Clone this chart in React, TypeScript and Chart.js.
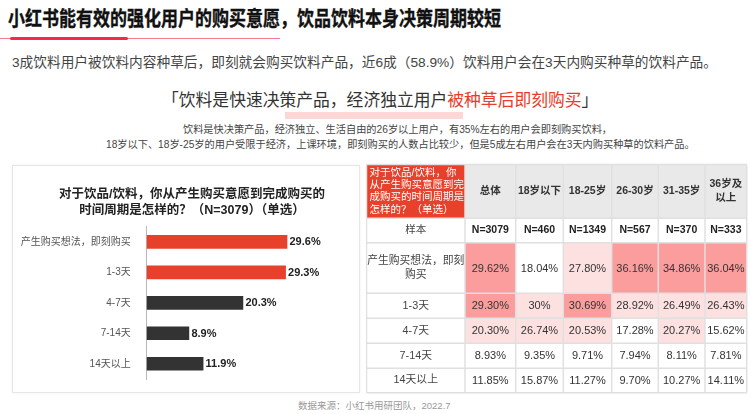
import React, { useEffect, useRef } from "react";
import { Chart, registerables } from "chart.js";

Chart.register(...registerables);

const FONT = '"Liberation Sans", "Noto Sans CJK SC", sans-serif';

// ---- Left bar chart data ----
const BAR_CATEGORIES = ["产生购买想法，即刻购买", "1-3天", "4-7天", "7-14天", "14天以上"];
const BAR_VALUES = [29.6, 29.3, 20.3, 8.9, 11.9];
const BAR_TITLE = ["对于饮品/饮料，你从产生购买意愿到完成购买的", "时间周期是怎样的？（N=3079）（单选）"];

// ---- Right table data ----
const TABLE_QUESTION = ["对于饮品/饮料，你", "从产生购买意愿到完", "成购买的时间周期是", "怎样的？（单选）"];
const TABLE_COLUMNS = [["总体"], ["18岁以下"], ["18-25岁"], ["26-30岁"], ["31-35岁"], ["36岁及", "以上"]];
const SAMPLE_LABEL = "样本";
const TABLE_SAMPLES = [3079, 460, 1349, 567, 370, 333];
const TABLE_ROWS = [["产生购买想法，即刻", "购买"], ["1-3天"], ["4-7天"], ["7-14天"], ["14天以上"]];
const ROW_IMMEDIATE = [29.62, 18.04, 27.8, 36.16, 34.86, 36.04];
const ROW_1_3_DAYS = [29.3, 30, 30.69, 28.92, 26.49, 26.43];
const ROW_4_7_DAYS = [20.3, 26.74, 20.53, 17.28, 20.27, 15.62];
const ROW_7_14_DAYS = [8.93, 9.35, 9.71, 7.94, 8.11, 7.81];
const ROW_14_PLUS = [11.85, 15.87, 11.27, 9.7, 10.27, 14.11];
// highlight level of each cell (0 none, 1 light, 2 strong)
const LEVEL_IMMEDIATE = [2, 0, 1, 2, 2, 2];
const LEVEL_1_3_DAYS = [2, 1, 2, 1, 1, 1];
const LEVEL_4_7_DAYS = [1, 1, 1, 0, 1, 0];
const LEVEL_7_14_DAYS = [0, 0, 0, 0, 0, 0];
const LEVEL_14_PLUS = [0, 0, 0, 0, 0, 0];

const TABLE_VALUES = [ROW_IMMEDIATE, ROW_1_3_DAYS, ROW_4_7_DAYS, ROW_7_14_DAYS, ROW_14_PLUS];
const TABLE_LEVELS = [LEVEL_IMMEDIATE, LEVEL_1_3_DAYS, LEVEL_4_7_DAYS, LEVEL_7_14_DAYS, LEVEL_14_PLUS];

// layout of the table (units = scale units)
const COL_W = [98.5, 50.7, 47.6, 48.4, 46.6, 46.7, 41.7];
const ROW_H = [53.8, 24.4, 50.6, 25, 25, 25, 24.4];
const TABLE_W = 383;
const TABLE_H = 231;

const RED = "#e8412b";
const DARK = "#333333";
const LEVEL_COLORS = ["#ffffff", "#fde1e1", "#fc9d9d"];

function fmtPct(v: number) {
  return Number.isInteger(v) ? `${v}%` : `${v.toFixed(2)}%`;
}

const barLabelPlugin = {
  id: "barLabels",
  afterDatasetsDraw(chart: any) {
    const ctx = chart.ctx;
    const meta = chart.getDatasetMeta(0);
    ctx.save();
    ctx.font = `bold 11px ${FONT}`;
    ctx.fillStyle = "#222";
    ctx.textBaseline = "middle";
    ctx.textAlign = "left";
    meta.data.forEach((bar: any, i: number) => {
      ctx.fillText(`${BAR_VALUES[i].toFixed(1)}%`, bar.x + 2.5, bar.y + 0.5);
    });
    ctx.restore();
  },
};

function cumulative(arr: number[], start: number) {
  const out = [start];
  arr.forEach((w) => out.push(out[out.length - 1] + w));
  return out;
}

const tablePlugin = {
  id: "heatTable",
  afterDraw(chart: any) {
    const ctx = chart.ctx;
    const xs = chart.scales.x;
    const ys = chart.scales.y;
    const cx = cumulative(COL_W, 0.5);
    const cy = cumulative(ROW_H, 1.5);
    const px = (v: number) => xs.getPixelForValue(v);
    const py = (v: number) => ys.getPixelForValue(v);
    const rect = (c: number, r: number, color: string) => {
      const x0 = px(cx[c]);
      const x1 = px(cx[c + 1]);
      const y0 = py(cy[r]);
      const y1 = py(cy[r + 1]);
      ctx.fillStyle = color;
      ctx.fillRect(x0, Math.min(y0, y1), x1 - x0, Math.abs(y1 - y0));
    };
    const center = (c: number, r: number) => ({
      x: (px(cx[c]) + px(cx[c + 1])) / 2,
      y: (py(cy[r]) + py(cy[r + 1])) / 2,
    });
    const lines = (textLines: string[], x: number, y: number, lh: number) => {
      const n = textLines.length;
      textLines.forEach((t, i) => ctx.fillText(t, x, y + (i - (n - 1) / 2) * lh));
    };

    ctx.save();
    rect(0, 0, RED);
    for (let c = 1; c < COL_W.length; c++) rect(c, 0, "#e9e9e9");
    for (let c = 0; c < COL_W.length; c++) rect(c, 1, "#ffffff");
    TABLE_VALUES.forEach((row, r) => {
      rect(0, r + 2, "#ffffff");
      row.forEach((_, c) => rect(c + 1, r + 2, LEVEL_COLORS[TABLE_LEVELS[r][c]]));
    });

    ctx.strokeStyle = "#e0e0e0";
    ctx.lineWidth = 1.5;
    cx.forEach((x) => {
      ctx.beginPath();
      ctx.moveTo(px(x), py(cy[0]));
      ctx.lineTo(px(x), py(cy[cy.length - 1]));
      ctx.stroke();
    });
    cy.forEach((y) => {
      ctx.beginPath();
      ctx.moveTo(px(cx[0]), py(y));
      ctx.lineTo(px(cx[cx.length - 1]), py(y));
      ctx.stroke();
    });

    ctx.textBaseline = "middle";
    ctx.fillStyle = "#ffffff";
    ctx.font = `10.5px ${FONT}`;
    ctx.textAlign = "left";
    const q = center(0, 0);
    lines(TABLE_QUESTION, px(cx[0]) + 3, q.y, 12.4);

    ctx.fillStyle = "#333";
    ctx.font = `bold 10.5px ${FONT}`;
    ctx.textAlign = "center";
    TABLE_COLUMNS.forEach((col, c) => {
      const p = center(c + 1, 0);
      lines(col, p.x, p.y, 14);
    });

    ctx.font = `10.5px ${FONT}`;
    ctx.fillStyle = "#444";
    const s = center(0, 1);
    ctx.fillText(SAMPLE_LABEL, s.x, s.y);
    ctx.font = `bold 10.5px ${FONT}`;
    ctx.fillStyle = "#222";
    TABLE_SAMPLES.forEach((n, c) => {
      const p = center(c + 1, 1);
      ctx.fillText(`N=${n}`, p.x, p.y);
    });

    TABLE_VALUES.forEach((row, r) => {
      ctx.font = `10.8px ${FONT}`;
      ctx.fillStyle = "#444";
      const l = center(0, r + 2);
      lines(TABLE_ROWS[r], l.x, l.y, 14);
      ctx.font = `11px ${FONT}`;
      ctx.fillStyle = "#333";
      row.forEach((v, c) => {
        const p = center(c + 1, r + 2);
        ctx.fillText(fmtPct(v), p.x, p.y + 0.5);
      });
    });
    ctx.restore();
  },
};

const abs = (extra: React.CSSProperties): React.CSSProperties => ({
  position: "absolute",
  whiteSpace: "nowrap",
  margin: 0,
  ...extra,
});

export default function App() {
  const barRef = useRef<HTMLCanvasElement>(null);
  const tableRef = useRef<HTMLCanvasElement>(null);

  useEffect(() => {
    const barChart = new Chart(barRef.current as HTMLCanvasElement, {
      type: "bar",
      data: {
        labels: BAR_CATEGORIES,
        datasets: [
          {
            data: BAR_VALUES,
            backgroundColor: BAR_VALUES.map((_, i) => (i < 2 ? RED : DARK)),
            borderWidth: 0,
            barThickness: 13,
          },
        ],
      },
      options: {
        indexAxis: "y",
        responsive: false,
        animation: false,
        layout: { padding: { top: 61.6, bottom: 12.3, right: 23.7, left: 0 } },
        plugins: { legend: { display: false }, tooltip: { enabled: false }, title: { display: false } },
        scales: {
          x: { display: false, min: 0, max: 40 },
          y: {
            grid: { display: false },
            border: { display: true, color: "#b8b8b8", dash: [2, 2], width: 1 },
            ticks: { color: "#555", font: { size: 10, family: FONT }, padding: 8 },
            afterFit: (scale: any) => {
              scale.width = 134.7;
            },
          },
        },
      } as any,
      plugins: [barLabelPlugin],
    });

    const tableChart = new Chart(tableRef.current as HTMLCanvasElement, {
      type: "scatter",
      data: { datasets: [] },
      options: {
        responsive: false,
        animation: false,
        layout: { padding: 0 },
        plugins: { legend: { display: false }, tooltip: { enabled: false } },
        scales: {
          x: { type: "linear", display: false, min: 0, max: TABLE_W },
          y: { type: "linear", display: false, min: 0, max: TABLE_H, reverse: true },
        },
      } as any,
      plugins: [tablePlugin],
    });

    return () => {
      barChart.destroy();
      tableChart.destroy();
    };
  }, []);

  return (
    <div
      style={{
        position: "absolute",
        left: 0,
        top: 0,
        width: 750,
        height: 414,
        background: "#fff",
        overflow: "hidden",
        fontFamily: FONT,
        color: "#333",
      }}
    >
      <div
        style={abs({
          left: 8,
          top: 8,
          fontSize: 17,
          lineHeight: "24px",
          fontWeight: 700,
          color: "#111",
          transform: "scaleY(1.22)",
          transformOrigin: "50% 50%",
          WebkitTextStroke: "0.3px #111",
        })}
      >
        小红书能有效的强化用户的购买意愿，饮品饮料本身决策周期较短
      </div>
      <div style={abs({ left: 0, top: 38, width: 280, height: 1, background: "#f47c8f" })} />
      <div style={abs({ left: 10, top: 37, width: 118, height: 3, background: "#f5294c", borderRadius: 1.5 })} />

      <div style={abs({ left: 12, top: 54, fontSize: 13.7, lineHeight: "17px", color: "#444" })}>
        3成饮料用户被饮料内容种草后，即刻就会购买饮料产品，近6成（58.9%）饮料用户会在3天内购买种草的饮料产品。
      </div>

      <div style={abs({ left: 285, top: 112, width: 178, height: 7, background: "#fdd6d6" })} />
      <div style={abs({ left: 162, top: 91, fontSize: 16.8, lineHeight: "20px", color: "#333" })}>
        「饮料是快速决策产品，经济独立用户<span style={{ color: "#ea3b2a" }}>被种草后即刻购买</span>」
      </div>

      <div style={abs({ left: 183, top: 124, fontSize: 10.2, lineHeight: "12px", color: "#444" })}>
        饮料是快决策产品，经济独立、生活自由的26岁以上用户，有35%左右的用户会即刻购买饮料，
      </div>
      <div style={abs({ left: 106, top: 139, fontSize: 10.2, lineHeight: "12px", color: "#444" })}>
        18岁以下、18岁-25岁的用户受限于经济，上课环境，即刻购买的人数占比较少，但是5成左右用户会在3天内购买种草的饮料产品。
      </div>

      <div
        style={abs({
          left: 12,
          top: 165,
          width: 346,
          height: 226,
          border: "1px solid #e6e6e6",
          boxShadow: "0 0 3px rgba(0,0,0,0.06)",
          background: "#fff",
        })}
      />
      <canvas ref={barRef} width={348} height={228} style={abs({ left: 12, top: 165, width: 348, height: 228 })} />
      <div
        style={abs({
          left: 12,
          top: 186,
          width: 360,
          textAlign: "center",
          fontSize: 12.5,
          lineHeight: "16px",
          fontWeight: 700,
          color: "#222",
        })}
      >
        {BAR_TITLE.map((t) => (
          <div key={t}>{t}</div>
        ))}
      </div>

      <canvas ref={tableRef} width={TABLE_W} height={TABLE_H} style={abs({ left: 366, top: 163, width: TABLE_W, height: TABLE_H })} />

      <div style={abs({ left: 298, top: 400, fontSize: 9.5, lineHeight: "12px", color: "#999" })}>
        数据来源：小红书用研团队，2022.7
      </div>
    </div>
  );
}
